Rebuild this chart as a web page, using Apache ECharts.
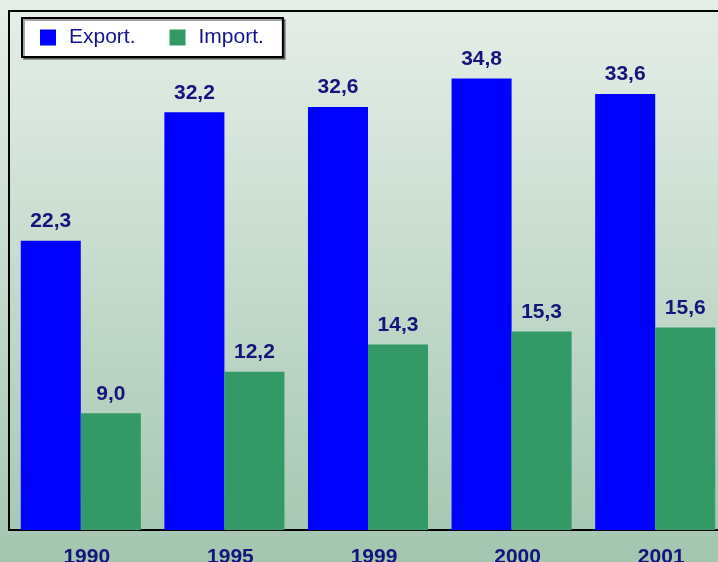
<!DOCTYPE html>
<html><head><meta charset="utf-8">
<script src="https://cdn.jsdelivr.net/npm/echarts@6/dist/echarts.min.js"></script>
<style>html,body{margin:0;padding:0;}#c{width:718px;height:562px;}</style>
</head><body><div id="c"></div>
<script>
const categories = ['1990', '1995', '1999', '2000', '2001'];
const exportValues = [22.3, 32.2, 32.6, 34.8, 33.6];
const importValues = [9.0, 12.2, 14.3, 15.3, 15.6];
const seriesNames = ['Export.', 'Import.'];

const chart = echarts.init(document.getElementById('c'));
const fmt = p => p.value.toFixed(1).replace('.', ',');
const labelStyle = {
  show: true, position: 'top', distance: 9, formatter: fmt,
  color: '#14147a', fontFamily: 'Liberation Sans, Arial, sans-serif',
  fontWeight: 'bold', fontSize: 21
};
chart.setOption({
  animation: false,
  backgroundColor: new echarts.graphic.LinearGradient(0, 0, 0, 1, [
    { offset: 0, color: '#e6eee8' }, { offset: 1, color: '#a3c6b0' }
  ]),
  legend: {
    left: 22, top: 18,
    padding: [9, 19, 9, 18],
    backgroundColor: '#ffffff', borderColor: '#000', borderWidth: 2,
    shadowColor: 'rgba(0,0,0,0.35)', shadowOffsetX: 2, shadowOffsetY: 2,
    itemWidth: 16, itemHeight: 16, itemGap: 34, icon: 'rect',
    textStyle: { color: '#14148a', fontSize: 21, fontFamily: 'Liberation Sans, Arial, sans-serif', padding: [0, 0, 0, 8] },
    data: seriesNames
  },
  grid: { left: 9, width: 718, top: 11, height: 519, outerBoundsMode: 'none', containLabel: false,
    show: true, borderColor: '#000', borderWidth: 2 },
  xAxis: {
    type: 'category', data: categories,
    axisLine: { show: true, lineStyle: { color: '#000', width: 2 } },
    axisTick: { show: false },
    axisLabel: { margin: 17, padding: [0, 0, 0, 12], color: '#14147a', fontWeight: 'bold', fontSize: 21, fontFamily: 'Liberation Sans, Arial, sans-serif' }
  },
  yAxis: {
    type: 'value', min: 0, max: 40, interval: 10,
    show: false, splitLine: { show: false }
  },
  series: [
    { name: seriesNames[0], type: 'bar', data: exportValues, barGap: '0%', barCategoryGap: '16.4%',
      itemStyle: { color: '#0000ff' }, label: labelStyle },
    { name: seriesNames[1], type: 'bar', data: importValues,
      itemStyle: { color: '#339966' }, label: labelStyle }
  ]
});
</script></body></html>
